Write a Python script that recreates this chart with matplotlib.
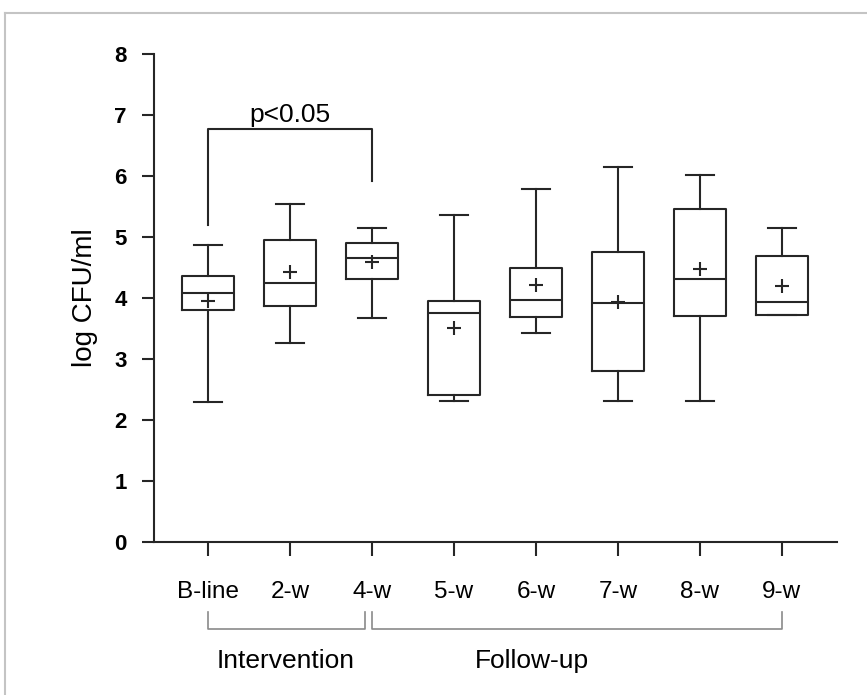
import matplotlib
matplotlib.use("Agg")
import matplotlib.pyplot as plt
import matplotlib.transforms as mtransforms
from matplotlib.lines import Line2D

plt.rcParams['font.family'] = ['Liberation Sans', 'DejaVu Sans']

categories = ["B-line", "2-w", "4-w", "5-w", "6-w", "7-w", "8-w", "9-w"]
whisker_low = [2.29, 3.26, 3.67, 2.30, 3.43, 2.30, 2.30, 3.72]
q1 = [3.80, 3.87, 4.31, 2.40, 3.68, 2.80, 3.71, 3.72]
median = [4.08, 4.24, 4.65, 3.75, 3.96, 3.92, 4.31, 3.94]
q3 = [4.36, 4.95, 4.90, 3.95, 4.49, 4.75, 5.46, 4.68]
whisker_high = [4.86, 5.54, 5.15, 5.36, 5.79, 6.15, 6.02, 5.15]
means = [3.95, 4.43, 4.58, 3.50, 4.21, 3.93, 4.48, 4.20]
yticks = [0, 1, 2, 3, 4, 5, 6, 7, 8]

W, H = 867, 695
fig = plt.figure(figsize=(W / 100, H / 100), dpi=100)
ax = fig.add_axes([154 / W, 1 - 541.7 / H, (837 - 154) / W, (541.7 - 54) / H])

LC = "#262626"
LW = 1.5
stats = []
for i in range(len(categories)):
    stats.append(dict(label=categories[i], whislo=whisker_low[i], q1=q1[i],
                      med=median[i], q3=q3[i], whishi=whisker_high[i],
                      mean=means[i], fliers=[]))
pos = list(range(len(categories)))
ax.bxp(stats, positions=pos, widths=0.635, showmeans=True, showfliers=False,
       patch_artist=False,
       boxprops=dict(color=LC, linewidth=LW),
       medianprops=dict(color=LC, linewidth=LW),
       whiskerprops=dict(color=LC, linewidth=LW),
       capprops=dict(color=LC, linewidth=LW),
       capwidths=0.342,
       meanprops=dict(marker='+', markeredgecolor=LC, markerfacecolor=LC,
                      markersize=10, markeredgewidth=1.5))

ax.set_xlim(-0.663, 7.676)
ax.set_ylim(0, 8)
ax.set_yticks(yticks)
ax.set_yticklabels([str(v) for v in yticks], fontweight='bold', fontsize=16)
ax.set_xticks(pos)
ax.set_xticklabels(categories, fontsize=17.5)
for s in ['top', 'right']:
    ax.spines[s].set_visible(False)
for s in ['left', 'bottom']:
    ax.spines[s].set_linewidth(1.5)
    ax.spines[s].set_color(LC)
ax.tick_params(axis='y', length=8.6, width=1.5, color=LC, pad=11)
ax.tick_params(axis='x', length=10, width=1.5, color=LC, pad=18)

# significance bracket
ax.plot([0, 0, 2, 2], [5.20, 6.77, 6.77, 5.91], color=LC, lw=LW, clip_on=False)
ax.text(1.0, 6.89, "p<0.05", ha='center', va='baseline', fontsize=19)

fig.text(85 / W, 1 - 298 / H, "log CFU/ml", rotation=90, ha='center', va='center',
         fontsize=20)

# phase brackets below axis
tr = mtransforms.blended_transform_factory(ax.transData, fig.transFigure)
yb1, yb2 = 1 - 611.7 / H, 1 - 629.3 / H
GC = "#8a8a8a"
ax.add_line(Line2D([0, 0, 1.91, 1.91], [yb1, yb2, yb2, yb1], transform=tr,
                   color=GC, lw=1.2, clip_on=False))
ax.add_line(Line2D([2, 2, 7, 7], [yb1, yb2, yb2, yb1], transform=tr,
                   color=GC, lw=1.2, clip_on=False))
ytxt = 1 - 668.3 / H
ax.text(0.94, ytxt, "Intervention", transform=tr, ha='center', va='baseline',
        fontsize=19, clip_on=False)
ax.text(3.95, ytxt, "Follow-up", transform=tr, ha='center', va='baseline',
        fontsize=19, clip_on=False)

# outer light frame
FC = "#c4c4c4"
fig.add_artist(Line2D([5 / W, 1.0], [1 - 13 / H, 1 - 13 / H], transform=fig.transFigure,
                      color=FC, lw=1.5))
fig.add_artist(Line2D([5 / W, 5 / W], [1 - 13 / H, 0.0], transform=fig.transFigure,
                      color=FC, lw=1.5))

fig.savefig("out.png", dpi=100)
